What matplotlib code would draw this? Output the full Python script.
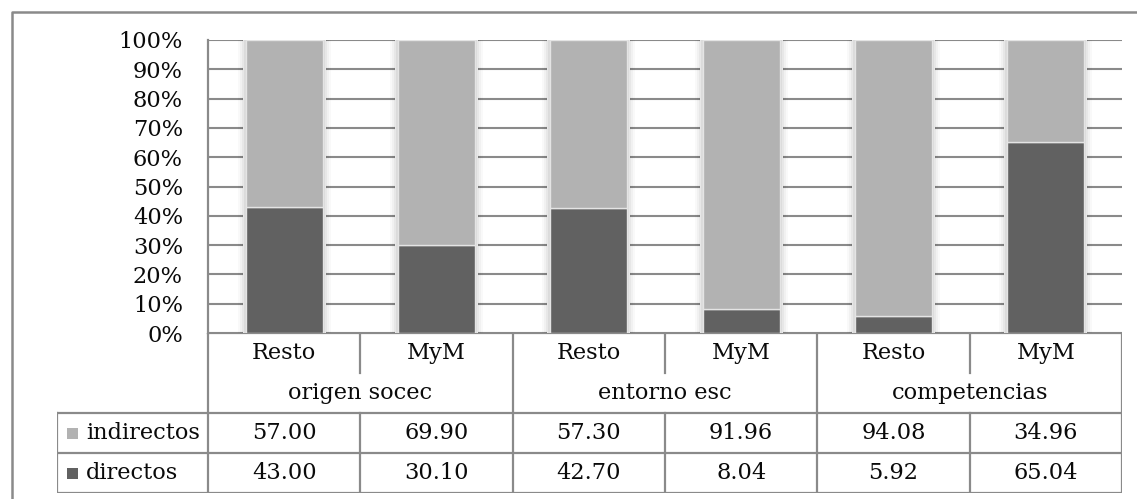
import numpy as np
import matplotlib
matplotlib.use("Agg")
import matplotlib.pyplot as plt
from matplotlib.lines import Line2D
from matplotlib.patches import Rectangle

# --- Data ---
groups = ["origen socec", "entorno esc", "competencias"]
subgroups = ["Resto", "MyM", "Resto", "MyM", "Resto", "MyM"]
series_names = ["indirectos", "directos"]
indirectos = [57.00, 69.90, 57.30, 91.96, 94.08, 34.96]
directos = [43.00, 30.10, 42.70, 8.04, 5.92, 65.04]
yticks = [0, 10, 20, 30, 40, 50, 60, 70, 80, 90, 100]

# --- Style ---
W, H = 1137, 499
light = "#b2b2b2"
dark = "#616161"
line_c = "#8a8a8a"
font = dict(family="DejaVu Serif", size=16.2, color="#0a0a0a")
plt.rcParams["font.family"] = "DejaVu Serif"

fig = plt.figure(figsize=(W / 100, H / 100), dpi=100)

# plot area in pixels
left_px, right_px, top_px, base_px = 208, 1122, 40, 333
unit = (right_px - left_px) / len(subgroups)

ax = fig.add_axes([left_px / W, 1 - base_px / H, (right_px - left_px) / W, (base_px - top_px) / H])
ax.set_xlim(-0.5, len(subgroups) - 0.5)
ax.set_ylim(0, 100)
for s in ["top", "right", "bottom"]:
    ax.spines[s].set_visible(False)
ax.spines["left"].set_color(line_c)
ax.spines["left"].set_linewidth(1.6)
ax.set_xticks([])
ax.set_yticks(yticks)
ax.set_yticklabels([f"{t}%" for t in yticks], fontdict=font)
ax.tick_params(axis="y", length=0, pad=18)
ax.yaxis.grid(True, color=line_c, linewidth=1.5)
ax.set_axisbelow(True)

x = np.arange(len(subgroups))
bw = 0.505
px = 1 / unit

# soft glow around each column, covering the gridlines near it
for xi in x:
    ax.add_patch(Rectangle((xi - bw / 2 - 3 * px, 0), bw + 6 * px, 100,
                           facecolor="white", edgecolor="none", zorder=1.5))
    for k, a in [(8, 0.025), (6, 0.03), (4, 0.04), (2, 0.05)]:
        ax.add_patch(Rectangle((xi - bw / 2 - k * px, 0), bw + 2 * k * px, 100,
                               facecolor="black", alpha=a, edgecolor="none", zorder=1.6))

ax.bar(x, directos, width=bw, color=dark, edgecolor="#e4e4e4", linewidth=1, zorder=2)
ax.bar(x, indirectos, width=bw, bottom=directos, color=light, edgecolor="#e4e4e4",
       linewidth=1, zorder=2)

# --- Data table ---
tab_left_px, tab_bottom_px = 57, 493
tab = fig.add_axes([tab_left_px / W, 1 - tab_bottom_px / H,
                    (right_px - tab_left_px) / W, (tab_bottom_px - base_px) / H])
x0 = -0.5 - (left_px - tab_left_px) / unit
x1 = len(subgroups) - 0.5
tab.set_xlim(x0, x1)
tab.set_ylim(4, 0)
tab.axis("off")

lk = dict(color=line_c, linewidth=1.6, solid_capstyle="projecting")
tab.plot([-0.5, x1], [0, 0], **lk)
for yy in [2, 3, 4]:
    tab.plot([x0, x1], [yy, yy], **lk)
tab.plot([x0, x0], [2, 4], **lk)
for xx in [-0.5, 1.5, 3.5, x1]:
    tab.plot([xx, xx], [0, 4], **lk)
for xx in [0.5, 2.5, 4.5]:
    tab.plot([xx, xx], [0, 1], **lk)
    tab.plot([xx, xx], [2, 4], **lk)

for i, name in enumerate(subgroups):
    tab.text(i, 0.5, name, ha="center", va="center", fontdict=font)
for g, name in enumerate(groups):
    tab.text(2 * g + 0.5, 1.5, name, ha="center", va="center", fontdict=font)
for i in range(len(subgroups)):
    tab.text(i, 2.5, f"{indirectos[i]:.2f}", ha="center", va="center", fontdict=font)
    tab.text(i, 3.5, f"{directos[i]:.2f}", ha="center", va="center", fontdict=font)

for r, (name, c) in enumerate(zip(series_names, [light, dark])):
    tab.add_patch(Rectangle((x0 + 10 / unit, r + 2.5 - 5.5 / 40), 11 / unit, 11 / 40,
                            facecolor=c, edgecolor="none"))
    tab.text(x0 + 29 / unit, r + 2.5, name, ha="left", va="center", fontdict=font)

# chart frame
fig.add_artist(Line2D([12 / W, 12 / W, 1], [0, 1 - 12 / H, 1 - 12 / H],
                      transform=fig.transFigure, color=line_c, linewidth=1.8))

fig.savefig("out.png", dpi=100)
